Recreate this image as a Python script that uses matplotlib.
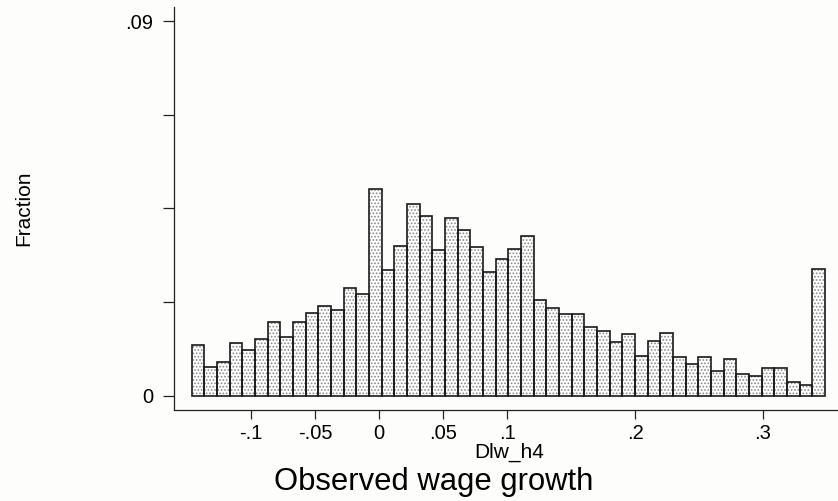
import numpy as np
import matplotlib
matplotlib.use("Agg")
import matplotlib.pyplot as plt

# ---- data ----
bin_start = -0.1463
bin_width = 0.009894
fractions = [0.0122, 0.0070, 0.0080, 0.0127, 0.0109, 0.0136, 0.0176, 0.0142, 0.0176, 0.0198,
             0.0216, 0.0206, 0.0258, 0.0244, 0.0497, 0.0302, 0.0360, 0.0460, 0.0432, 0.0351,
             0.0428, 0.0398, 0.0357, 0.0296, 0.0329, 0.0352, 0.0384, 0.0231, 0.0211, 0.0197,
             0.0197, 0.0164, 0.0155, 0.0128, 0.0149, 0.0095, 0.0131, 0.0151, 0.0094, 0.0075,
             0.0094, 0.0060, 0.0087, 0.0053, 0.0048, 0.0067, 0.0067, 0.0032, 0.0025, 0.0304]
x_ticks = [-0.1, -0.05, 0, 0.05, 0.1, 0.2, 0.3]
x_tick_labels = ['-.1', '-.05', '0', '.05', '.1', '.2', '.3']
y_ticks = [0, 0.0225, 0.045, 0.0675, 0.09]
y_tick_labels = ['0', '', '', '', '.09']
x_label = 'Dlw_h4'
y_label = 'Fraction'
caption = 'Observed wage growth'

plt.rcParams['font.family'] = ['Liberation Sans', 'DejaVu Sans']
plt.rcParams['hatch.linewidth'] = 0.8

bg = '#fdfdfb'
fig = plt.figure(figsize=(8.38, 5.01), dpi=100, facecolor=bg)
ax = fig.add_axes([174/838, 1-409.7/501, 664/838, 402.7/501])
ax.set_facecolor(bg)

lefts = bin_start + bin_width*np.arange(len(fractions))
# dotted fill
ax.bar(lefts, fractions, width=bin_width, align='edge', color='white',
       edgecolor='#8a8a8a', linewidth=0, hatch='.....', zorder=2)
# outlines
ax.bar(lefts, fractions, width=bin_width, align='edge', fill=False,
       edgecolor='#1a1a1a', linewidth=1.2, zorder=3)

ax.set_xlim(-0.1602, 0.3586)
ax.set_ylim(-0.00336, 0.09337)

for s in ['top', 'right']:
    ax.spines[s].set_visible(False)
for s in ['left', 'bottom']:
    ax.spines[s].set_linewidth(0.9)
    ax.spines[s].set_color('#222222')

ax.set_xticks(x_ticks)
ax.set_xticklabels(x_tick_labels)
ax.set_yticks(y_ticks)
ax.set_yticklabels(y_tick_labels)
ax.tick_params(axis='x', direction='out', length=6.5, width=0.9, pad=4,
               labelsize=14.5, colors='#222222', labelcolor='black')
ax.tick_params(axis='y', direction='out', length=7.7, width=0.9, pad=7,
               labelsize=14.5, colors='#222222', labelcolor='black')

ax.set_xlabel(x_label, fontsize=15)
ax.xaxis.set_label_coords(0.505, -0.083)
ax.xaxis.label.set_va('top')

fig.text(24/838, 1-208/501, y_label, rotation=90, ha='center', va='center', fontsize=15)
fig.text(433.5/838, (501-490)/501, caption, ha='center', va='baseline', fontsize=22.3)

fig.savefig('out.png', dpi=100, facecolor=bg)
